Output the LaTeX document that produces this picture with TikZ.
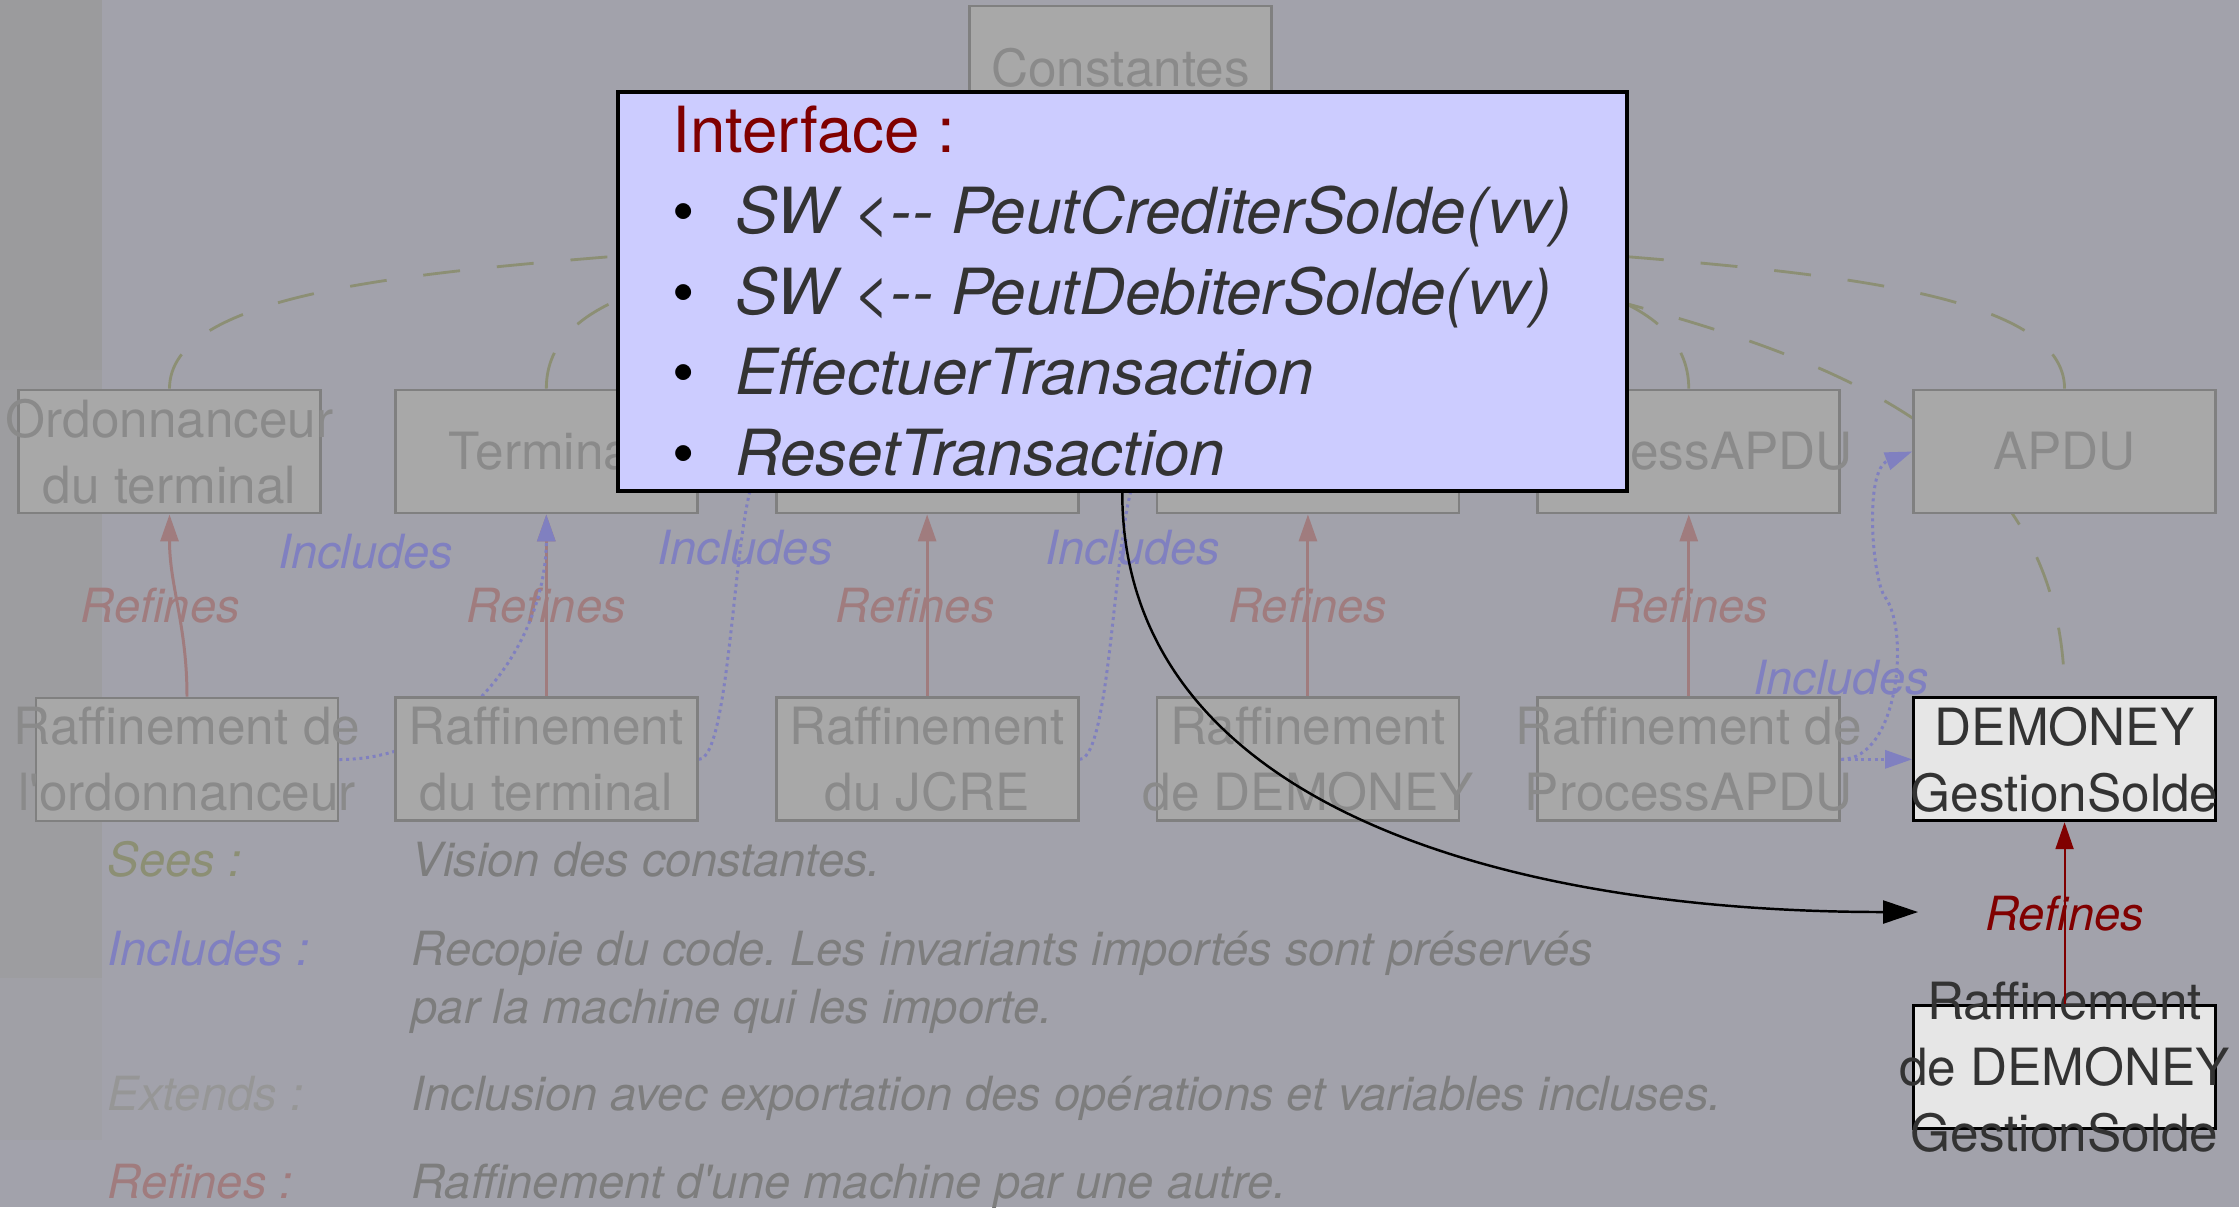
\documentclass[tikz,border=0pt]{standalone}
\usepackage{fontspec}
\setmainfont{TeX Gyre Heros}[Ligatures=TeXOff]
\usetikzlibrary{arrows.meta,positioning}
\frenchspacing

\definecolor{fond}{RGB}{162,162,171}
\definecolor{bande}{RGB}{155,155,157}
\definecolor{bandemilieu}{RGB}{157,157,160}
\definecolor{bandebas}{RGB}{160,160,166}
\definecolor{grisboite}{RGB}{168,168,168}
\definecolor{grisbord}{RGB}{128,128,128}
\definecolor{gristexte}{RGB}{138,138,138}
\definecolor{grislegende}{RGB}{125,125,125}
\definecolor{grisextends}{RGB}{150,150,150}
\definecolor{rosepale}{RGB}{160,124,126}
\definecolor{bleupale}{RGB}{128,128,192}
\definecolor{olivepale}{RGB}{140,143,116}
\definecolor{lavande}{RGB}{204,204,255}
\definecolor{grisclair}{RGB}{230,230,230}
\definecolor{grisfonce}{RGB}{51,51,51}
\definecolor{rougefonce}{RGB}{128,0,0}

\pgfdeclarelayer{arriere}
\pgfsetlayers{arriere,main}

\newcommand{\puce}{\makebox[6.3mm][l]{\textcolor{black}{\textbullet}}}

\tikzset{
    %Define standard arrow tip
    >={Triangle[length=2.7mm,width=1.8mm]},
    %Define style for boxes
    machine/.style={
           rectangle,
           draw=grisbord, line width=0.8pt,
           fill=grisboite,
           minimum width=30.2mm,
           minimum height=12.3mm,
           inner sep=0pt},
    machinetexte/.style={
           text=gristexte,
           align=center,
           font=\fontsize{14.6}{18.8}\selectfont},
    choisie/.style={
           machine,
           draw=black,
           fill=grisclair},
    %Define style for the pop-up
    fenetre/.style={
           rectangle,
           draw=black, line width=1pt,
           fill=lavande,
           text=grisfonce,
           minimum width=100.9mm,
           minimum height=39.9mm,
           inner xsep=5.3mm, inner ysep=0pt,
           align=left,
           font=\fontsize{18.1}{23}\selectfont},
    etiquette/.style={
           inner sep=0pt,
           font=\fontsize{13.4}{16.5}\selectfont\itshape},
    legende/.style={
           etiquette,
           anchor=base west},
    % Define arrow styles
    raffine/.style={->, draw=rosepale, line width=0.85pt},
    inclut/.style={->, draw=bleupale, line width=0.85pt,
           dash pattern=on 0.85pt off 1.05pt},
    voit/.style={draw=olivepale, line width=0.8pt,
           dash pattern=on 3.7mm off 3.7mm}
}

\begin{document}
\begin{tikzpicture}[x=0.1mm,y=0.1mm,node distance=18.2mm and 7.6mm]
\useasboundingbox (0,0) rectangle (2239,-1207);
% machines
\node[machine, label={[machinetexte]center:{Ordonnanceur\\du terminal}}] (ordo) at (169.5,-451.5) {};
\node[machine, right=7.2mm of ordo, label={[machinetexte]center:Terminal}] (term) {};
\node[machine, right=of term] (jcre) {};
\node[machine, right=of jcre] (demoney) {};
\node[machine, right=of demoney, label={[machinetexte]center:ProcessAPDU}] (process) {};
\node[machine, right=7.1mm of process, label={[machinetexte]center:APDU}] (apdu) {};
\node[machine, label={[machinetexte]center:Constantes}] (const) at (1120.5,-67.5) {};
% raffinements
\node[machine, label={[machinetexte]center:{Raffinement de\\l'ordonnanceur}}] (rordo) at (187,-759.5) {};
\node[machine, below=of term, label={[machinetexte]center:{Raffinement\\du terminal}}] (rterm) {};
\node[machine, below=of jcre, label={[machinetexte]center:{Raffinement\\du JCRE}}] (rjcre) {};
\node[machine, below=of demoney, label={[machinetexte]center:{Raffinement\\de DEMONEY}}] (rdemoney) {};
\node[machine, below=of process, label={[machinetexte]center:{Raffinement de\\ProcessAPDU}}] (rprocess) {};
\node[choisie, below=of apdu, label={[machinetexte, text=grisfonce]center:{DEMONEY\\GestionSolde}}] (gestion) {};
\node[choisie, below=of gestion, label={[machinetexte, text=grisfonce]center:{Raffinement\\de DEMONEY\\GestionSolde}}] (rgestion) {};
\coordinate (coude) at (1885,-597);
% legende
\node[legende, text=olivepale] (cle1) at (107,-876) {Sees :};
\node[legende, text=grislegende] (def1) at (411,-876) {Vision des constantes.};
\node[legende, text=bleupale] (cle2) at (107,-965) {Includes :};
\node[legende, text=grislegende] (def2) at (411,-965) {Recopie du code. Les invariants importés sont préservés};
\node[legende, text=grislegende] (def2b) at (411,-1023) {par la machine qui les importe.};
\node[legende, text=grisextends] (cle3) at (107,-1110) {Extends :};
\node[legende, text=grislegende] (def3) at (411,-1110) {Inclusion avec exportation des opérations et variables incluses.};
\node[legende, text=rosepale] (cle4) at (107,-1198) {Refines :};
\node[legende, text=grislegende] (def4) at (411,-1198) {Raffinement d'une machine par une autre.};

\begin{pgfonlayer}{arriere}
\fill[fond] (0,0) rectangle (2239,-1207);
\fill[bande] (0,0) rectangle (102,-370);
\fill[bandemilieu] (0,-370) rectangle (102,-978);
\fill[bandebas] (0,-978) rectangle (102,-1140);
% sees
\path
    (ordo.north) edge[voit, out=90, in=-90, out distance=19mm, in distance=17.5mm] (const.south)
    (term.north) edge[voit, out=90, in=-90, out distance=19mm, in distance=17.5mm] (const.south)
    (process.north) edge[voit, out=90, in=-90, out distance=19mm, in distance=17.5mm] (const.south)
    (apdu.north) edge[voit, out=90, in=-90, out distance=19mm, in distance=17.5mm] (const.south)
    (const.south) edge[voit, out=-35.5, in=90, out distance=34.4mm, in distance=43.8mm] (gestion.north);
% refines
\path[every node/.style={etiquette, text=rosepale}]
    (rordo.north) edge[raffine, out=90, in=-90] node[xshift=-1.8mm] (rf1) {Refines} (ordo.south)
    (rterm) edge[raffine] node (rf2) {Refines} (term)
    (rjcre) edge[raffine] node[xshift=-1.2mm] (rf3) {Refines} (jcre)
    (rdemoney) edge[raffine] node (rf4) {Refines} (demoney)
    (rprocess) edge[raffine] node (rf5) {Refines} (process);
% includes
\path[every node/.style={etiquette, text=bleupale}]
    (rordo.east) edge[inclut, out=0, in=-90] node[pos=0.9, left=8.9mm] (in1) {Includes} (term.south)
    (rterm.east) edge[inclut, out=0, in=-130, out distance=3.3mm, in distance=6.4mm] node[pos=0.68] (in2) {Includes} (jcre.west)
    (rjcre.east) edge[inclut, out=0, in=-130, out distance=3.3mm, in distance=6.4mm] node[pos=0.68, xshift=0.7mm] (in3) {Includes} (demoney.west)
    (rprocess) edge[inclut] node[pos=0, above=6.3mm] (in4) {Includes} (gestion);
\draw[inclut] (rprocess.east) to[out=0, in=-53, out distance=5.8mm, in distance=4.1mm] (coude)
    to[out=127, in=-159, out distance=2.1mm, in distance=5.2mm] (apdu.west);
\end{pgfonlayer}

% interface
\node[fenetre, anchor=north west] (interface) at (616,-90) {\textcolor{rougefonce}{Interface :}\\
\puce\textit{SW <-- PeutCrediterSolde(vv)}\\
\puce\textit{SW <-- PeutDebiterSolde(vv)}\\
\puce\textit{EffectuerTransaction}\\
\puce\textit{ResetTransaction}};
\path (rgestion) edge[->, draw=rougefonce, line width=0.6pt] node[etiquette, text=rougefonce] (rf6) {Refines} (gestion);
\coordinate (cible) at (1918,-912);
\draw[->, >={Triangle[length=3.5mm,width=2.3mm]}, line width=0.7pt] (interface.south)
    to[out=-90, in=180, out distance=31.1mm, in distance=41.8mm] (cible);
\end{tikzpicture}
\end{document}
